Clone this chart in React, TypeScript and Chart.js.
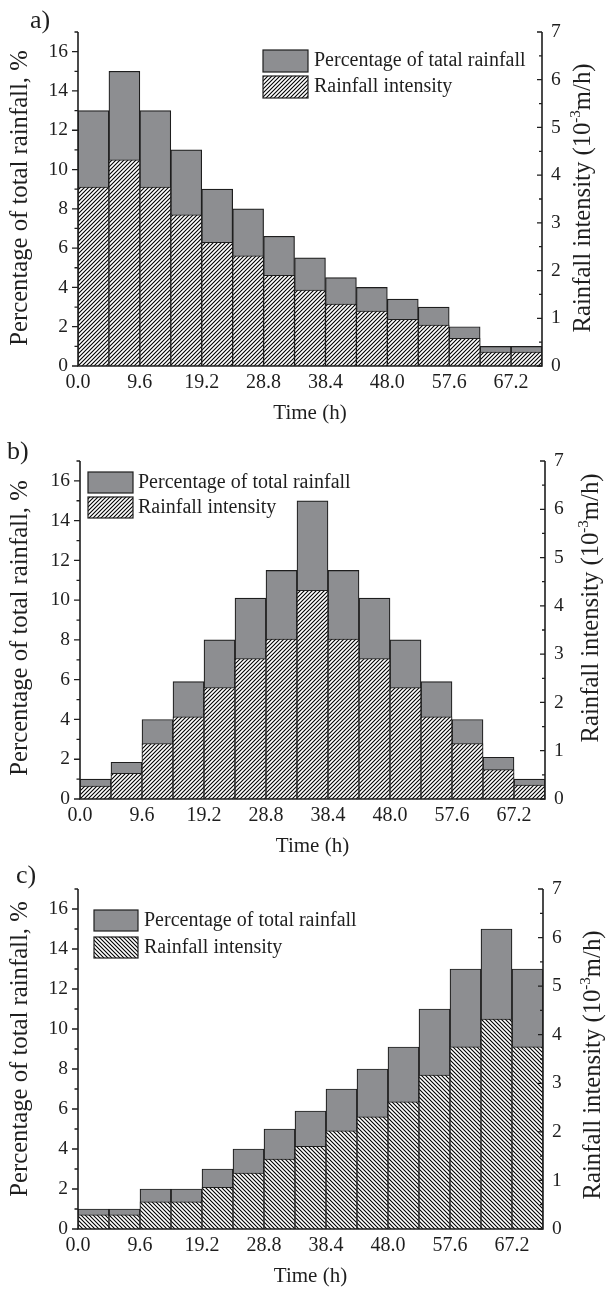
import React, { useEffect, useRef } from 'react';
import { Chart, registerables } from 'chart.js';
Chart.register(...registerables);

const timeCenters = [2.4, 7.2, 12.0, 16.8, 21.6, 26.4, 31.2, 36.0, 40.8, 45.6, 50.4, 55.2, 60.0, 64.8, 69.6];
const xTickValues = [0, 9.6, 19.2, 28.8, 38.4, 48.0, 57.6, 67.2];
const xTickLabels = ['0.0', '9.6', '19.2', '28.8', '38.4', '48.0', '57.6', '67.2'];
const leftTickValues = [0, 2, 4, 6, 8, 10, 12, 14, 16];
const rightTickValues = [0, 1, 2, 3, 4, 5, 6, 7];

const percentA = [13, 15, 13, 11, 9, 8, 6.6, 5.5, 4.5, 4, 3.4, 3, 2, 1, 1];
const intensityA = [3.75, 4.32, 3.75, 3.17, 2.59, 2.31, 1.9, 1.59, 1.3, 1.15, 0.98, 0.86, 0.58, 0.29, 0.29];
const percentB = [1, 1.85, 4, 5.9, 8, 10.1, 11.5, 15, 11.5, 10.1, 8, 5.9, 4, 2.1, 1];
const intensityB = [0.27, 0.53, 1.15, 1.7, 2.31, 2.91, 3.31, 4.32, 3.31, 2.91, 2.31, 1.7, 1.15, 0.61, 0.29];
const percentC = [1, 1, 2, 2, 3, 4, 5, 5.9, 7, 8, 9.1, 11, 13, 15, 13];
const intensityC = [0.29, 0.29, 0.56, 0.56, 0.86, 1.15, 1.44, 1.7, 2.02, 2.31, 2.62, 3.17, 3.75, 4.32, 3.75];

const legendPercentA = 'Percentage of tatal rainfall';
const legendPercent = 'Percentage of total rainfall';
const legendIntensity = 'Rainfall intensity';
const leftTitle = 'Percentage of total rainfall, %';
const rightTitleMain = 'Rainfall intensity (10';
const rightTitleSup = '-3';
const rightTitleEnd = 'm/h)';
const xTitle = 'Time (h)';

const FONT = "'Liberation Serif', 'DejaVu Serif', serif";
const GRAY = '#8d8e91';
const INK = '#1e1e1e';
const W = 606;
const H = 431;

function makeHatch(dir: string, p: number) {
  const c = document.createElement('canvas');
  c.width = p;
  c.height = p;
  const g = c.getContext('2d')!;
  g.fillStyle = '#fff';
  g.fillRect(0, 0, p, p);
  g.strokeStyle = '#000';
  g.lineWidth = 1.1;
  g.beginPath();
  if (dir === '/') {
    g.moveTo(-1, p + 1); g.lineTo(p + 1, -1);
    g.moveTo(-1, 1); g.lineTo(1, -1);
    g.moveTo(p - 1, p + 1); g.lineTo(p + 1, p - 1);
  } else {
    g.moveTo(-1, -1); g.lineTo(p + 1, p + 1);
    g.moveTo(-1, p - 1); g.lineTo(1, p + 1);
    g.moveTo(p - 1, -1); g.lineTo(p + 1, 1);
  }
  g.stroke();
  return g.createPattern(c, 'repeat')!;
}

type Area = { left: number; right: number; top: number; bottom: number };
type PanelProps = {
  top: number;
  label: string;
  labelPos: [number, number];
  legendFirst: string;
  legendBox: { x: number; y: number; w: number; h: number; gap: number; textX: number };
  percent: number[];
  intensity: number[];
  hatch: string;
  area: Area;
  leftTitleY: number;
  rightTitlePos: [number, number];
};

function Panel(props: PanelProps) {
  const ref = useRef<HTMLCanvasElement>(null);
  useEffect(() => {
    const canvas = ref.current!;
    const { area } = props;
    const pattern = makeHatch(props.hatch, 4);

    const decor = {
      id: 'decor',
      afterDraw(chart: any) {
        const ctx = chart.ctx as CanvasRenderingContext2D;
        const { left, right, top, bottom } = chart.chartArea;
        const ys = chart.scales.y;
        const yr = chart.scales.y1;
        ctx.save();
        ctx.strokeStyle = INK;
        ctx.lineWidth = 1.6;
        ctx.beginPath();
        ctx.moveTo(left, top);
        ctx.lineTo(left, bottom);
        ctx.lineTo(right, bottom);
        ctx.lineTo(right, top);
        ctx.stroke();
        ctx.lineWidth = 1.3;
        ctx.beginPath();
        for (let v = 0; v <= 17; v++) {
          const py = ys.getPixelForValue(v);
          const len = v % 2 === 0 ? 6 : 3.5;
          ctx.moveTo(left, py);
          ctx.lineTo(left - len, py);
        }
        for (let v = 0; v <= 7; v += 0.5) {
          const py = yr.getPixelForValue(v);
          const len = Number.isInteger(v) ? 5 : 3;
          ctx.moveTo(right, py);
          ctx.lineTo(right - len, py);
        }
        ctx.stroke();

        ctx.fillStyle = INK;
        // panel label
        ctx.font = `26px ${FONT}`;
        ctx.textAlign = 'left';
        ctx.textBaseline = 'alphabetic';
        ctx.fillText(props.label, props.labelPos[0], props.labelPos[1]);

        // x title
        ctx.font = `21px ${FONT}`;
        ctx.textAlign = 'center';
        ctx.textBaseline = 'middle';
        ctx.fillText(xTitle, (left + right) / 2, bottom + 47);

        // left title
        ctx.save();
        ctx.font = `24.7px ${FONT}`;
        ctx.translate(21, props.leftTitleY);
        ctx.rotate(-Math.PI / 2);
        ctx.textAlign = 'center';
        ctx.textBaseline = 'middle';
        ctx.fillText(leftTitle, 0, 0);
        ctx.restore();

        // right title
        ctx.save();
        const big = `24.7px ${FONT}`;
        const small = `15px ${FONT}`;
        ctx.font = big;
        const w1 = ctx.measureText(rightTitleMain).width;
        const w3 = ctx.measureText(rightTitleEnd).width;
        ctx.font = small;
        const w2 = ctx.measureText(rightTitleSup).width;
        const total = w1 + w2 + w3;
        ctx.translate(props.rightTitlePos[0], props.rightTitlePos[1]);
        ctx.rotate(-Math.PI / 2);
        ctx.textAlign = 'left';
        ctx.textBaseline = 'middle';
        let x0 = -total / 2;
        ctx.font = big;
        ctx.fillText(rightTitleMain, x0, 0);
        x0 += w1;
        ctx.font = small;
        ctx.fillText(rightTitleSup, x0, -7.5);
        x0 += w2;
        ctx.font = big;
        ctx.fillText(rightTitleEnd, x0, 0);
        ctx.restore();

        // legend
        const lb = props.legendBox;
        ctx.lineWidth = 1.2;
        ctx.strokeStyle = INK;
        ctx.fillStyle = GRAY;
        ctx.fillRect(lb.x, lb.y, lb.w, lb.h);
        ctx.strokeRect(lb.x, lb.y, lb.w, lb.h);
        const y2 = lb.y + lb.h + lb.gap;
        ctx.fillStyle = pattern;
        ctx.fillRect(lb.x, y2, lb.w, lb.h);
        ctx.strokeRect(lb.x, y2, lb.w, lb.h);
        ctx.fillStyle = INK;
        ctx.font = `20px ${FONT}`;
        ctx.textAlign = 'left';
        ctx.textBaseline = 'middle';
        ctx.fillText(props.legendFirst, lb.textX, lb.y + lb.h / 2);
        ctx.fillText(legendIntensity, lb.textX, y2 + lb.h / 2);
        ctx.restore();
      },
    };

    const chart = new Chart(canvas, {
      type: 'bar',
      data: {
        datasets: [
          {
            label: legendIntensity,
            data: timeCenters.map((t, i) => ({ x: t, y: props.intensity[i] })),
            yAxisID: 'y1',
            backgroundColor: pattern,
            borderColor: INK,
            borderWidth: 1,
            grouped: false,
            barPercentage: 1,
            categoryPercentage: 1,
            order: 0,
          } as any,
          {
            label: props.legendFirst,
            data: timeCenters.map((t, i) => ({ x: t, y: props.percent[i] })),
            yAxisID: 'y',
            backgroundColor: GRAY,
            borderColor: INK,
            borderWidth: 1.2,
            grouped: false,
            barPercentage: 1,
            categoryPercentage: 1,
            order: 1,
          } as any,
        ],
      },
      options: {
        responsive: false,
        maintainAspectRatio: false,
        animation: false,
        layout: { padding: { top: area.top, left: 0, right: 0, bottom: 0 } },
        plugins: { legend: { display: false }, tooltip: { enabled: false } },
        scales: {
          x: {
            type: 'linear',
            offset: false,
            min: 0,
            max: 72,
            grid: { display: false, drawTicks: false, offset: false },
            border: { display: false },
            afterBuildTicks: (s: any) => {
              s.ticks = xTickValues.map((v) => ({ value: v }));
            },
            afterFit: (s: any) => {
              s.height = H - area.bottom;
            },
            ticks: {
              autoSkip: false,
              maxRotation: 0,
              padding: 5,
              color: INK,
              font: { family: FONT, size: 20 },
              callback: (_v: any, i: number) => xTickLabels[i],
            },
          },
          y: {
            position: 'left',
            min: 0,
            max: 17,
            grid: { display: false, drawTicks: false },
            border: { display: false },
            afterBuildTicks: (s: any) => {
              s.ticks = leftTickValues.map((v) => ({ value: v }));
            },
            afterFit: (s: any) => {
              s.width = area.left;
            },
            ticks: { padding: 10, color: INK, font: { family: FONT, size: 19.5 }, callback: (v: any) => String(v) },
          },
          y1: {
            position: 'right',
            min: 0,
            max: 7,
            grid: { display: false, drawTicks: false },
            border: { display: false },
            afterBuildTicks: (s: any) => {
              s.ticks = rightTickValues.map((v) => ({ value: v }));
            },
            afterFit: (s: any) => {
              s.width = W - area.right;
            },
            ticks: { padding: 9, color: INK, font: { family: FONT, size: 19.5 }, callback: (v: any) => String(v) },
          },
        } as any,
      },
      plugins: [decor],
    });
    return () => chart.destroy();
  }, []);
  return (
    <canvas
      ref={ref}
      width={W}
      height={H}
      style={{ position: 'absolute', left: 0, top: props.top, width: W, height: H }}
    />
  );
}

export default function App() {
  return (
    <div style={{ position: 'absolute', left: 0, top: 0, width: W, height: 1293, background: '#fff' }}>
      <Panel
        top={0}
        label="a)"
        labelPos={[30, 28]}
        legendFirst={legendPercentA}
        legendBox={{ x: 263, y: 50, w: 45, h: 22, gap: 4, textX: 314 }}
        percent={percentA}
        intensity={intensityA}
        hatch="/"
        area={{ left: 78, right: 542, top: 32, bottom: 366 }}
        leftTitleY={198}
        rightTitlePos={[584, 198]}
      />
      <Panel
        top={431}
        label="b)"
        labelPos={[7, 28]}
        legendFirst={legendPercent}
        legendBox={{ x: 88, y: 41, w: 45, h: 21, gap: 4, textX: 138 }}
        percent={percentB}
        intensity={intensityB}
        hatch="/"
        area={{ left: 80, right: 545, top: 30, bottom: 368 }}
        leftTitleY={197}
        rightTitlePos={[592, 177]}
      />
      <Panel
        top={862}
        label="c)"
        labelPos={[16, 21]}
        legendFirst={legendPercent}
        legendBox={{ x: 94, y: 48, w: 44, h: 21, gap: 6, textX: 144 }}
        percent={percentC}
        intensity={intensityC}
        hatch="\"
        area={{ left: 78, right: 543, top: 27, bottom: 367 }}
        leftTitleY={187}
        rightTitlePos={[594, 203]}
      />
    </div>
  );
}
